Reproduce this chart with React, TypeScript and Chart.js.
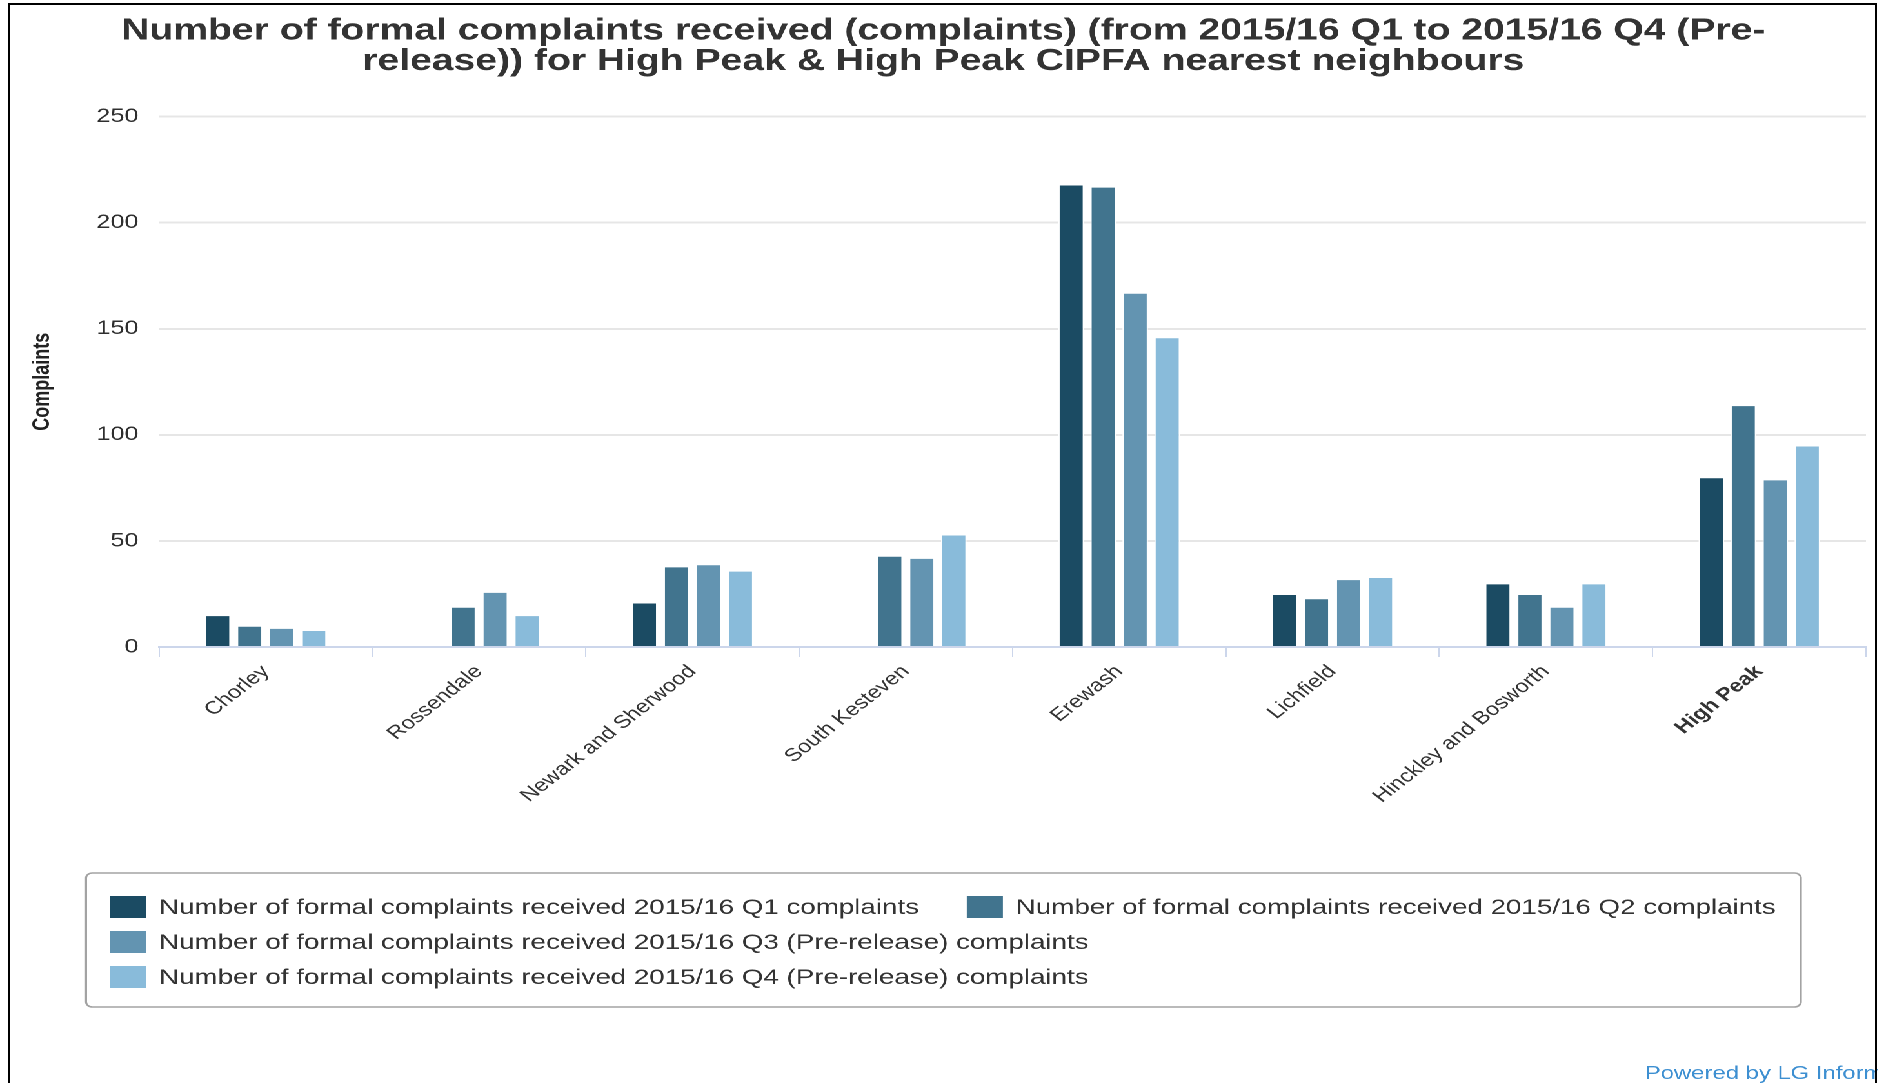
import { useEffect, useRef } from 'react';
import { Chart, registerables } from 'chart.js';

Chart.register(...registerables);

// ---------------- data ----------------
const categories = [
  'Chorley',
  'Rossendale',
  'Newark and Sherwood',
  'South Kesteven',
  'Erewash',
  'Lichfield',
  'Hinckley and Bosworth',
  'High Peak',
];
const q1Values = [15, null, 21, null, 218, 25, 30, 80];
const q2Values = [10, 19, 38, 43, 217, 23, 25, 114];
const q3Values = [9, 26, 39, 42, 167, 32, 19, 79];
const q4Values = [8, 15, 36, 53, 146, 33, 30, 95];
const seriesLabels = [
  'Number of formal complaints received 2015/16 Q1 complaints',
  'Number of formal complaints received 2015/16 Q2 complaints',
  'Number of formal complaints received 2015/16 Q3 (Pre-release) complaints',
  'Number of formal complaints received 2015/16 Q4 (Pre-release) complaints',
];
const seriesColors = ['#1b4b63', '#41748e', '#6394b1', '#89bbda'];
const yTickValues = [0, 50, 100, 150, 200, 250];
const titleLines = [
  'Number of formal complaints received (complaints) (from 2015/16 Q1 to 2015/16 Q4 (Pre-',
  'release)) for High Peak & High Peak CIPFA nearest neighbours',
];
const yAxisTitle = 'Complaints';
const highlightCategory = 'High Peak';
const creditText = 'Powered by LG Inform';

// ---------------- layout ----------------
const STRETCH = 1.29;
const LOGICAL_W = 1456;
const PAGE_H = 1083;
const FONT = '"Liberation Sans", Arial, Helvetica, sans-serif';

const legendPlugin = {
  id: 'boxLegend',
  afterDraw(chart: any) {
    const ctx = chart.ctx as CanvasRenderingContext2D;
    ctx.save();
    const bx = 66.7;
    const by = 873;
    const bw = 1396 - 66.7;
    const bh = 134;
    ctx.beginPath();
    (ctx as any).roundRect(bx, by, bw, bh, 5);
    ctx.lineWidth = 1.6;
    ctx.strokeStyle = '#a3a3a3';
    ctx.stroke();

    ctx.font = `21.5px ${FONT}`;
    ctx.textBaseline = 'middle';
    ctx.textAlign = 'left';
    const startX = 85.3;
    const maxRight = bx + bw - 12;
    let x = startX;
    let row = 0;
    chart.data.datasets.forEach((ds: any) => {
      const label = ds.label as string;
      const w = 38 + ctx.measureText(label).width;
      if (x > startX && x + w > maxRight) {
        row += 1;
        x = startX;
      }
      const cy = 907 + row * 35;
      ctx.fillStyle = ds.backgroundColor;
      ctx.fillRect(x, cy - 11, 28, 22);
      ctx.fillStyle = '#333333';
      ctx.fillText(label, x + 38, cy + 1);
      x += w + 37;
    });

    ctx.font = `18.5px ${FONT}`;
    ctx.fillStyle = '#3d8fd1';
    ctx.fillText(creditText, 1275, 1074);
    ctx.restore();
  },
};

export default function App() {
  const canvasRef = useRef<HTMLCanvasElement | null>(null);

  useEffect(() => {
    document.body.style.margin = '0';
    document.body.style.overflow = 'hidden';
    const canvas = canvasRef.current;
    if (!canvas) return;
    const datasetValues = [q1Values, q2Values, q3Values, q4Values];
    const chart = new Chart(canvas, {
      type: 'bar',
      data: {
        labels: categories,
        datasets: datasetValues.map((vals, i) => ({
          label: seriesLabels[i],
          data: vals,
          backgroundColor: seriesColors[i],
          borderColor: '#ffffff',
          borderWidth: 1,
          categoryPercentage: 0.6,
          barPercentage: 0.8,
        })),
      },
      options: {
        animation: false,
        responsive: true,
        maintainAspectRatio: false,
        devicePixelRatio: 2,
        layout: {
          padding: { left: 16, right: LOGICAL_W - 1446.5, top: 0, bottom: 236 },
        },
        plugins: {
          legend: { display: false },
          tooltip: { enabled: false },
          title: {
            display: true,
            text: titleLines,
            color: '#333333',
            font: { family: FONT, size: 30.3, weight: 'bold', lineHeight: 1.0 },
            padding: { top: 16, bottom: 40 },
          },
        },
        scales: {
          x: {
            afterFit: (scale: any) => {
              scale.height = 200;
            },
            grid: {
              display: true,
              drawOnChartArea: false,
              drawTicks: true,
              tickLength: 10,
              offset: true,
              color: '#ccd6eb',
              lineWidth: 1,
            },
            border: { display: true, color: '#ccd6eb', width: 2 },
            ticks: {
              autoSkip: false,
              maxRotation: 45,
              minRotation: 45,
              padding: 4,
              color: '#333333',
              font: (ctx: any) => ({
                family: FONT,
                size: 18.2,
                weight: categories[ctx.index] === highlightCategory ? 'bold' : 'normal',
              }),
            },
          },
          y: {
            min: yTickValues[0],
            max: yTickValues[yTickValues.length - 1],
            afterFit: (scale: any) => {
              scale.width = 107.3;
            },
            afterBuildTicks: (scale: any) => {
              scale.ticks = yTickValues.map((v) => ({ value: v }));
            },
            grid: {
              color: '#e6e6e6',
              lineWidth: 2,
              drawTicks: false,
            },
            border: { display: false },
            ticks: {
              padding: 16,
              color: '#2e2e2e',
              font: { family: FONT, size: 19.5 },
            },
            title: {
              display: true,
              text: yAxisTitle,
              color: '#222222',
              font: { family: FONT, size: 18, weight: 'bold' },
              padding: { top: 6.2, bottom: 0 },
            },
          },
        },
      },
      plugins: [legendPlugin],
    });
    return () => {
      chart.destroy();
    };
  }, []);

  return (
    <>
      <div
        style={{
          position: 'absolute',
          left: 0,
          top: 0,
          width: `${LOGICAL_W}px`,
          height: `${PAGE_H}px`,
          transform: `scaleX(${STRETCH})`,
          transformOrigin: '0 0',
          background: '#ffffff',
        }}
      >
        <canvas ref={canvasRef} />
      </div>
      <div
        style={{
          position: 'absolute',
          left: '8px',
          top: '3px',
          width: '1869px',
          height: '1080px',
          boxSizing: 'border-box',
          borderTop: '2px solid #000',
          borderLeft: '2px solid #000',
          borderRight: '2px solid #000',
          pointerEvents: 'none',
        }}
      />
    </>
  );
}
